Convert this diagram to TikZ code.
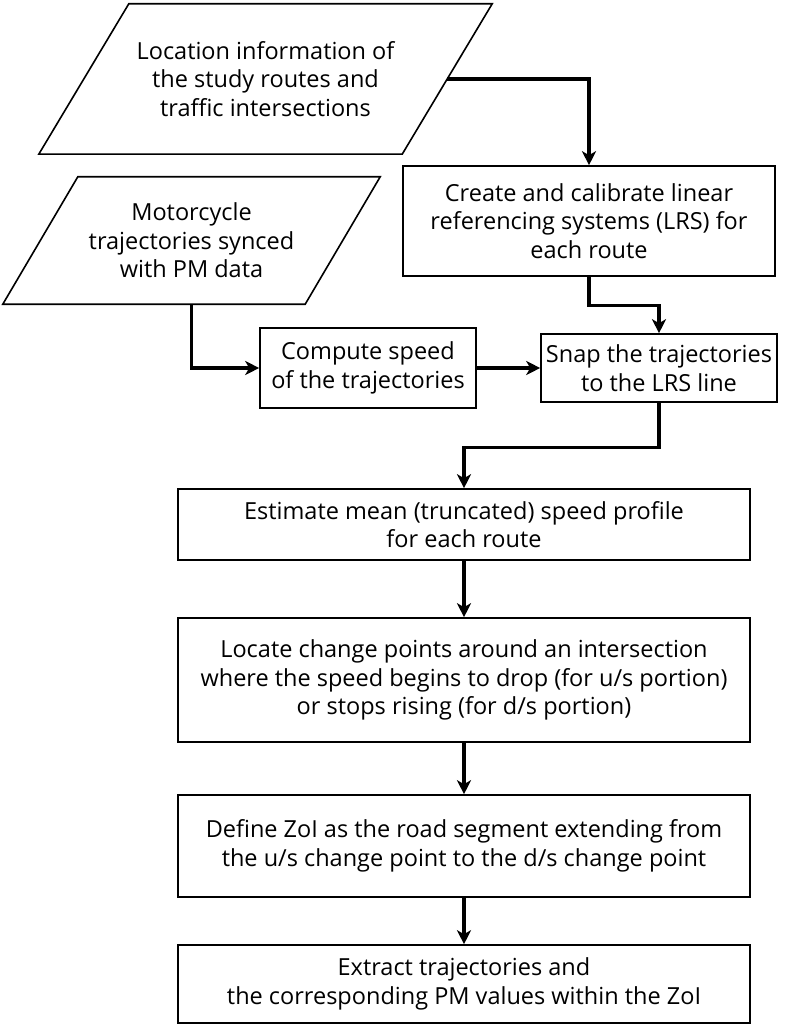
\documentclass[tikz,border=0pt]{standalone}
\usepackage{fontspec}
\setmainfont{Open Sans}
\usepackage{tikz}
\usetikzlibrary{arrows.meta,positioning}

\begin{document}
\begin{tikzpicture}[x=1pt,y=-1pt,
	box/.style={draw, line width=1.6pt, align=center, inner sep=0pt},
	io/.style={align=center, inner sep=0pt},
	slant/.style={line width=1.6pt, line join=miter},
	arr/.style={line width=3.2pt, -{Stealth[length=14pt,width=14pt,inset=4pt]}}]
	\useasboundingbox (0,0) rectangle (784,1024);
	\fontsize{23.5}{28.5}\selectfont

	% inputs (parallelograms drawn around invisible nodes)
	\node [io, minimum width=363, minimum height=150] (loc) at (265.5,79) {Location information of\\the study routes and\\traffic intersections};
	\draw [slant] ([xshift=45]loc.north west) -- ([xshift=45]loc.north east) -- ([xshift=-45]loc.south east) -- ([xshift=-45]loc.south west) -- cycle;
	\node [io, minimum width=302, minimum height=127] (moto) at (191.5,240.5) {Motorcycle\\trajectories synced\\with PM data};
	\draw [slant] ([xshift=37.5]moto.north west) -- ([xshift=37.5]moto.north east) -- ([xshift=-37.5]moto.south east) -- ([xshift=-37.5]moto.south west) -- cycle;

	% processing steps
	\node [box, minimum width=372, minimum height=110] (lrs) at (589,221) {Create and calibrate linear\\referencing systems (LRS) for\\each route};
	\node [box, minimum width=216, minimum height=80] (speed) at (368,368) {Compute speed\\of the trajectories};
	\node [box, minimum width=236, minimum height=68] (snap) at (659,368) {Snap the trajectories\\to the LRS line};
	\node [box, minimum width=572, minimum height=71] (mean) at (464,524.5) {Estimate mean (truncated) speed profile\\for each route};
	\node [box, minimum width=572, minimum height=124] (chpt) at (464,680) {Locate change points around an intersection\\where the speed begins to drop (for u/s portion)\\or stops rising (for d/s portion)};
	\node [box, minimum width=572, minimum height=102] (zoi) at (464,846) {Define ZoI as the road segment extending from\\the u/s change point to the d/s change point};
	\node [box, minimum width=572, minimum height=78] (extr) at (464,984) {Extract trajectories and\\the corresponding PM values within the ZoI};

	% connectors
	\draw [arr] (loc.east) -| (lrs.north);
	\draw [arr] (moto.south) |- (speed.west);
	\draw [arr] (speed.east) -- (snap.west);
	\draw [arr] (lrs.south) -- ++(0,29) -| (snap.north);
	\draw [arr] (snap.south) -- ++(0,45) -| (mean.north);
	\draw [arr] (mean.south) -- (chpt.north);
	\draw [arr] (chpt.south) -- (zoi.north);
	\draw [arr] (zoi.south) -- (extr.north);
\end{tikzpicture}
\end{document}
